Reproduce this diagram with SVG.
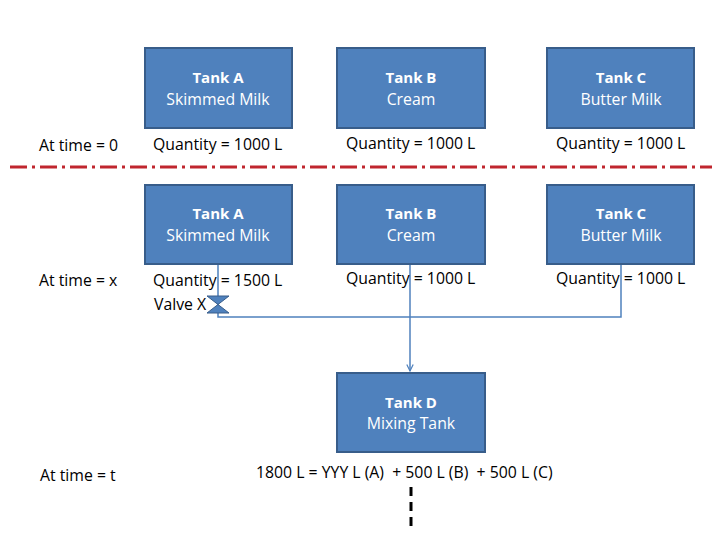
<svg xmlns="http://www.w3.org/2000/svg" width="720" height="540" viewBox="0 0 720 540">
<style>
.box{fill:#4F81BD;stroke:#385D8A;stroke-width:2}
.t{font-family:"Open Sans","Liberation Sans",sans-serif;font-size:15.8px;fill:#FFFFFF;text-anchor:middle}
.b{font-weight:bold;font-size:15px}
.l{font-family:"Open Sans","Liberation Sans",sans-serif;font-size:15.8px;fill:#000000}
.c{fill:none;stroke:#4F81BD;stroke-width:1.5}
</style>
<defs>
<marker id="arr" viewBox="0 0 10 10" refX="9" refY="5" markerWidth="8" markerHeight="8" orient="auto" markerUnits="userSpaceOnUse">
<path d="M1,1 L9,5 L1,9" fill="none" stroke="#4F81BD" stroke-width="1.5"/>
</marker>
</defs>
<rect width="720" height="540" fill="#FFFFFF"/>
<g id="connectors">
<path class="c" d="M218,264 V317 H621 V264"/>
<path class="c" d="M410,264 V371" marker-end="url(#arr)"/>
<line x1="10" y1="167" x2="712" y2="167" stroke="#C0262E" stroke-width="3" stroke-dasharray="17,5,3,5"/>
<line x1="411" y1="487" x2="411" y2="526" stroke="#000000" stroke-width="3" stroke-dasharray="9,6"/>
</g>
<g id="valveX">
<path d="M207,296 H229 L207,313 H229 Z" fill="#4F81BD" stroke="#385D8A" stroke-width="1"/>
<text class="l" x="154" y="310">Valve X</text>
</g>
<g id="tankA0"><rect class="box" x="145" y="48" width="147" height="80"/><text class="t b" x="218" y="83">Tank A</text><text class="t" x="218" y="105">Skimmed Milk</text></g>
<g id="tankB0"><rect class="box" x="337" y="48" width="148" height="80"/><text class="t b" x="411" y="83">Tank B</text><text class="t" x="411" y="105">Cream</text></g>
<g id="tankC0"><rect class="box" x="547" y="48" width="147" height="80"/><text class="t b" x="621" y="83">Tank C</text><text class="t" x="621" y="105">Butter Milk</text></g>
<g id="tankA1"><rect class="box" x="145" y="185" width="147" height="79"/><text class="t b" x="218" y="219">Tank A</text><text class="t" x="218" y="241">Skimmed Milk</text></g>
<g id="tankB1"><rect class="box" x="337" y="185" width="148" height="79"/><text class="t b" x="411" y="219">Tank B</text><text class="t" x="411" y="241">Cream</text></g>
<g id="tankC1"><rect class="box" x="547" y="185" width="147" height="79"/><text class="t b" x="621" y="219">Tank C</text><text class="t" x="621" y="241">Butter Milk</text></g>
<g id="tankD"><rect class="box" x="337" y="373" width="148" height="79"/><text class="t b" x="411" y="408">Tank D</text><text class="t" x="411" y="429">Mixing Tank</text></g>
<g id="labels">
<text class="l" x="39" y="151">At time = 0</text>
<text class="l" x="153" y="150">Quantity = 1000 L</text>
<text class="l" x="346" y="149">Quantity = 1000 L</text>
<text class="l" x="556" y="149">Quantity = 1000 L</text>
<text class="l" x="39" y="286">At time = x</text>
<text class="l" x="153" y="286">Quantity = 1500 L</text>
<text class="l" x="346" y="284">Quantity = 1000 L</text>
<text class="l" x="556" y="284">Quantity = 1000 L</text>
<text class="l" x="40" y="481">At time = t</text>
<text class="l" x="256" y="478" xml:space="preserve">1800 L = YYY L (A)  + 500 L (B)  + 500 L (C)</text>
</g>
</svg>
